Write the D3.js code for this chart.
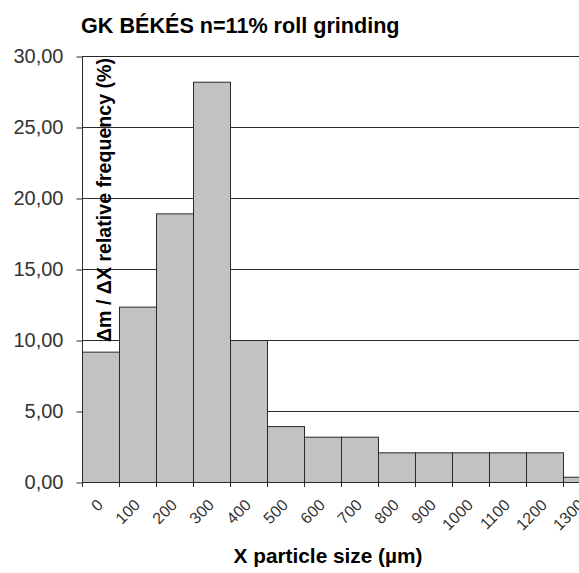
<!DOCTYPE html>
<html>
<head>
<meta charset="utf-8">
<script src="https://cdn.jsdelivr.net/npm/d3@7"></script>
<style>
  html, body { margin: 0; padding: 0; background: #fff; }
  svg { display: block; font-family: Arial, "Liberation Sans", sans-serif; }
</style>
</head>
<body>
<svg id="chart" width="579" height="573"></svg>
<script>
const title = "GK BÉKÉS n=11% roll grinding";
const xTitle = "X particle size (µm)";
const yTitle = "Δm / ΔX relative frequency (%)";
const categories = ["0","100","200","300","400","500","600","700","800","900","1000","1100","1200","1300"];
const values = [9.18, 12.35, 18.92, 28.19, 10.0, 3.94, 3.19, 3.19, 2.09, 2.09, 2.09, 2.09, 2.09, 0.37];
const yTicks = [0, 5, 10, 15, 20, 25, 30];

(function () {
const svg = d3.select("#chart");
const pL = 82, pR = 600, pT = 56, pB = 482;

const x = d3.scaleBand().domain(categories).range([pL, pR]).paddingInner(0).paddingOuter(0);
const y = d3.scaleLinear().domain([0, 30]).range([pB, pT]);
const fmt = v => d3.format(".2f")(v).replace(".", ",");

// gridlines
svg.append("g").selectAll("line").data(yTicks.filter(d => d > 0)).join("line")
  .attr("x1", pL).attr("x2", pR)
  .attr("y1", d => y(d) + 0.5).attr("y2", d => y(d) + 0.5)
  .attr("stroke", "#2a2a2a").attr("stroke-width", 1);

// bars
svg.append("g").selectAll("rect").data(values).join("rect")
  .attr("x", (d, i) => x(categories[i]) + 0.5)
  .attr("y", d => y(d) + 0.5)
  .attr("width", x.bandwidth())
  .attr("height", d => pB - y(d))
  .attr("fill", "#c2c2c2")
  .attr("stroke", "#2a2a2a").attr("stroke-width", 1);

// y axis
const yAxis = svg.append("g").attr("transform", `translate(${pL + 0.5},0.5)`)
  .call(d3.axisLeft(y).tickValues(yTicks).tickFormat(fmt).tickSize(6).tickPadding(13));
yAxis.select(".domain").attr("stroke", "#2a2a2a").attr("d", `M0,${pT}V${pB}`);
yAxis.selectAll(".tick line").attr("stroke", "#2a2a2a");
yAxis.selectAll(".tick text").attr("font-size", 20).attr("fill", "#333")
  .attr("font-family", "Arial, 'Liberation Sans', sans-serif");

// x axis (ticks at bar boundaries)
const xg = svg.append("g");
xg.append("line").attr("x1", pL).attr("x2", pR)
  .attr("y1", pB + 0.5).attr("y2", pB + 0.5).attr("stroke", "#2a2a2a");
const bounds = categories.map(c => x(c)).concat([x(categories[categories.length - 1]) + x.bandwidth()]);
xg.selectAll("line.tk").data(bounds).join("line").attr("class", "tk")
  .attr("x1", d => d + 0.5).attr("x2", d => d + 0.5)
  .attr("y1", pB).attr("y2", pB + 5).attr("stroke", "#2a2a2a");
xg.selectAll("text").data(categories).join("text")
  .attr("transform", d => `translate(${x(d) + x.bandwidth() / 2 + 3.5},${pB + 24}) rotate(-45)`)
  .attr("text-anchor", "end")
  .attr("font-size", 16).attr("fill", "#333")
  .text(d => d);

// titles
svg.append("text").attr("x", 81).attr("y", 33)
  .attr("font-size", 21.6).attr("font-weight", "bold").attr("fill", "#000")
  .text(title);
svg.append("text").attr("x", 328).attr("y", 563).attr("text-anchor", "middle")
  .attr("font-size", 20.8).attr("font-weight", "bold").attr("fill", "#000")
  .text(xTitle);
svg.append("text").attr("transform", "translate(111,200) rotate(-90)")
  .attr("text-anchor", "middle")
  .attr("font-size", 19.6).attr("font-weight", "bold").attr("fill", "#000")
  .text(yTitle);
})();
</script>
</body>
</html>
